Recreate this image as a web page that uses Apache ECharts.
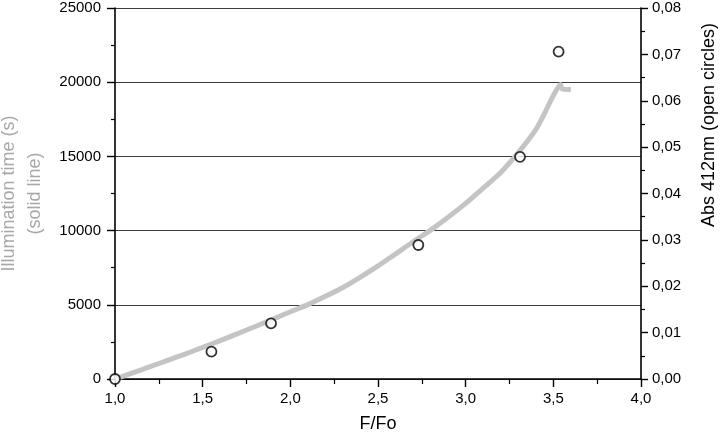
<!DOCTYPE html>
<html>
<head>
<meta charset="utf-8">
<script src="https://cdn.jsdelivr.net/npm/echarts@6/dist/echarts.min.js"></script>
<style>
html,body{margin:0;padding:0;background:#fff;}
#chart{width:720px;height:436px;}
</style>
</head>
<body>
<div id="chart"></div>
<script>
// Illumination time curve (solid grey line): F/Fo vs time (s)
const curveF = [1.0, 1.1, 1.2, 1.3, 1.4, 1.5, 1.6, 1.7, 1.8, 1.9, 2.0, 2.1, 2.2, 2.3, 2.4, 2.5, 2.6, 2.7, 2.8, 2.9, 3.0, 3.1, 3.2, 3.3, 3.4, 3.45, 3.5, 3.54, 3.55, 3.6];
const curveT = [0, 410, 830, 1260, 1680, 2130, 2590, 3060, 3540, 4030, 4530, 5010, 5570, 6170, 6870, 7620, 8420, 9250, 10030, 10900, 11830, 12860, 13920, 15250, 16800, 17900, 19100, 19850, 19550, 19500];
// Abs 412nm (open circles)
const circleF = [1.0, 1.55, 1.89, 2.73, 3.31, 3.53];
const circleAbs = [0.0, 0.0059, 0.0120, 0.0289, 0.0479, 0.0706];

const xMin = 1.0, xMax = 4.0, xStep = 0.5;
const tMin = 0, tMax = 25000, tStep = 5000;
const aMin = 0, aMax = 0.08, aStep = 0.01;

const FONT = "'Liberation Sans', Arial, Helvetica, sans-serif";
const chart = echarts.init(document.getElementById('chart'), null, {renderer: 'canvas'});

const curveData = curveF.map((f, i) => [f, curveT[i]]);
const circleData = circleF.map((f, i) => [f, circleAbs[i]]);

chart.setOption({
  animation: false,
  backgroundColor: '#fff',
  textStyle: {fontFamily: FONT},
  grid: {left: 115, right: 79, top: 8, bottom: 57, containLabel: false, outerBoundsMode: 'none'},
  xAxis: {
    type: 'value', min: xMin, max: xMax, interval: xStep,
    name: 'F/Fo', nameLocation: 'middle', nameGap: 36,
    nameTextStyle: {fontSize: 18, color: '#000', fontFamily: FONT},
    axisLine: {show: true, onZero: false, lineStyle: {color: '#000', width: 1.6}},
    axisTick: {show: true, inside: false, length: 8, lineStyle: {color: '#000', width: 1.4}},
    minorTick: {show: true, splitNumber: 2, length: 5, lineStyle: {color: '#000', width: 1.2}},
    splitLine: {show: false},
    axisLabel: {fontSize: 15, color: '#000', margin: 12, fontFamily: FONT,
      formatter: v => v.toFixed(1).replace('.', ',')}
  },
  yAxis: [
    {
      type: 'value', min: tMin, max: tMax, interval: tStep, position: 'left',
      name: 'Illumination time (s)\n(solid line)', nameLocation: 'middle', nameGap: 62, nameRotate: 90,
      nameTextStyle: {fontSize: 18, lineHeight: 26, color: '#a8a8a8', fontFamily: FONT},
      axisLine: {show: true, onZero: false, lineStyle: {color: '#000', width: 1.6}},
      axisTick: {show: true, inside: false, length: 8, lineStyle: {color: '#000', width: 1.4}},
      minorTick: {show: true, splitNumber: 2, length: 4, lineStyle: {color: '#000', width: 1.2}},
      splitLine: {show: true, lineStyle: {color: '#3c3c3c', width: 1}},
      axisLabel: {fontSize: 15, color: '#000', margin: 14, fontFamily: FONT,
        formatter: v => String(Math.round(v))}
    },
    {
      type: 'value', min: aMin, max: aMax, interval: aStep, position: 'right',
      axisLine: {show: true, onZero: false, lineStyle: {color: '#000', width: 1.6}},
      axisTick: {show: true, inside: false, length: 7, lineStyle: {color: '#000', width: 1.4}},
      minorTick: {show: true, splitNumber: 2, length: 4, lineStyle: {color: '#000', width: 1.2}},
      splitLine: {show: false},
      axisLabel: {fontSize: 15, color: '#000', margin: 11, fontFamily: FONT,
        formatter: v => v.toFixed(2).replace('.', ',')}
    }
  ],
  graphic: [{
    type: 'text', x: 709, y: 125, rotation: Math.PI / 2,
    style: {text: 'Abs 412nm (open circles)', fontSize: 18, fontFamily: FONT, fill: '#000',
      align: 'center', verticalAlign: 'middle'}
  }],
  series: [
    {
      type: 'line', name: 'time', yAxisIndex: 0, data: curveData,
      showSymbol: false, symbol: 'none', smooth: 0.2, z: 2,
      lineStyle: {color: '#c4c4c4', width: 5}
    },
    {
      type: 'scatter', name: 'abs', yAxisIndex: 1, data: circleData,
      symbol: 'circle', symbolSize: 10, clip: false, z: 5,
      itemStyle: {color: '#fff', borderColor: '#000', borderWidth: 1.8}
    }
  ]
});
</script>
</body>
</html>
